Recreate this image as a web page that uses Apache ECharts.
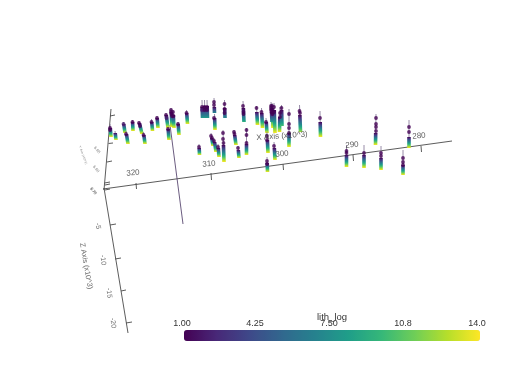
<!DOCTYPE html>
<html>
<head>
<meta charset="utf-8">
<style>html,body{margin:0;padding:0;background:#fff}#c{width:515px;height:368px}#c canvas{filter:blur(0.4px)}</style>
<script src="https://cdn.jsdelivr.net/npm/echarts@6/dist/echarts.min.js"></script>
</head>
<body>
<div id="c"></div>
<script>
// Projected position of each well in the 3D view.
// [xTop, yTop, yGradientStart, yBottom, xBottom, lithAtBottom]
const wells = [
  [110,124,128,137,111,14],[115,131,133,140,116,14],[123.5,122,124,133,125,14],[126,131,134,144,128,14],
  [132.5,120,122,131,133,14],[139,121,123,134,142,14],[143.5,132,135,144,145,14],[151.5,119,122,131,152.5,14],
  [157,116,118,128,158,14],[166,113,115,128,168,14],[171,108,112,127,172,14],[173,110,115,128,174,14],
  [168,127,129,140,169,14],[178,122,124,135,179,14],[186.5,110,113,124,187.5,14],
  [202,100,107,118,202.5,8],[204.5,100,106,118,205,8],[207,100,106,118,207.5,8],
  [214,98,107,113,214.5,7],[214.5,114,118,130,215,14],[224.5,100,108,118,225,7],[243,101,108,122,244,9],
  [256.5,106,112,125,257.5,14],[261.5,108,113,128,262.5,14],[266,118,122,133,267,14],
  [272,103,108,128,273,14],[274,103,110,133,275,14],[271,102,112,122,272,8],
  [280,107,117,132,279.5,14],[281.5,105,110,126,282,10],[289,109,133,147,289,14],[299.5,105,115,132,300.5,12],
  [320,111,122,137,320.5,14],[376,114,133,145,375.5,14],[409,120,137,148,409,14],
  [346.5,145,155,167,346.5,14],[364,145,155,168,364,14],[381,146,158,170,381,14],[403,150,165,175,403,14],
  [199,144,148,155,199.5,14],[211,133,138,146,213,14],[214,138,142,152,216,14],[218,144,148,157,219,14],
  [223,130,145,162,224,14],[234,130,135,145,236,14],[238,146,150,158,239,14],[246.5,128,144,155,246.5,14],
  [267,132,140,153,268,14],[274,142,148,160,275,14],[267,157,163,172,267.5,14]
];
// Dark marker points along the wells: [x, y, lith]
const wellDots = [
  [110,128,1],[110,130,1],[123.5,124,2],[126,134,1],[132.5,122,1],[139,123,1],[140,126,1],[143.5,135,1],
  [151.5,122,1],[157,118,1],[166,115,1],[166.5,118,2],[171,110,1],[171,112,1],[171.5,114,1],[172,116,1],
  [173,112,1],[173.5,116,1],[168,129,1],[178,124,1],[186.5,113,1],
  [202,107,1],[202,110,2],[204.5,107,1],[204.5,110,1],[207,107,1],[207,110,1],
  [214,102,1],[214,105,1],[214,118,1],[224.5,104,1],[224.5,109,1],[224.5,113,1],
  [243,106,1],[243.5,112,1],[243.5,114,1],[256.5,108,1],[261.5,112,1],[266,122,1],
  [272,106,1],[272,110,1],[272.5,114,1],[274,107,1],[274,112,1],[271,106,1],[271,108,1],[271,110,1],[271.5,112,1],
  [280,113,1],[280,117,1],[281.5,108,1],[289,114,1],[289,124,1],[289,128,1],[289,133,1],
  [299.5,111,1],[300,113,1],[320,118,1],[376,118,1],[376,124,1],[376,127,1],[376,131,1],
  [409,127,1],[409,132,1],[346.5,151,1],[346.5,153,1],[364,153,1],[381,153,1],[381,156,1],
  [403,158,1],[403,162,1],[403,165,1],
  [199,147,1],[211,136,1],[212,138,1],[214,141,1],[218,147,1],[223,133,1],[223,139,1],[223.5,143,1],
  [234,132,1],[234.5,134,1],[238,148,1],[246.5,130,1],[246.5,135,1],[246.5,143,1],
  [267,136,1],[267,140,1],[274,146,1],[267,161,1],[267,164,1]
];
// The long slanted well trace
const longTrace = [[170,125,183,224]];
// Axis lines and tick marks: [x1,y1,x2,y2]
const axisLines = [
  [103,189,452,141],[111,109,104,190],[104,188,128,333]
];
const axisTicks = [
  [136,183,136.5,189],[211,173,211.5,180],[283,164,283.5,170],[353,155,353.5,161],[421,146,421.5,152],
  [110,116,115,115],[108.5,143.5,113,143],[107,162,112,161],[104.5,183,110,182],[105,190,110,189],
  [105,185,110,184],[110,225,116,224],[115,259,121,258],[121,291,126,290],[126,323,132,322]
];
// Axis text: [x, y, text]
const xTickLabels = [[133,173,'320'],[209,164,'310'],[282,154,'300'],[352,145,'290'],[419,136,'280']];
const zTickLabels = [[98,226,'-5'],[103,260,'-10'],[109,293,'-15'],[113,323,'-20']];
const yTickLabels = [[97,150,'6.85'],[96,169,'6.80'],[93,191,'6.75'],[93.5,191,'6.70']];
const xTitle = [[282,136,'X Axis (x10^3)']];
const zTitle = [[86,266,'Z Axis (x10^3)']];
const yTitle = [[83,155,'Y Axis (x10^3)']];
// Color bar
const lithTicks = ['1.00','4.25','7.50','10.8','14.0'];
const lithTickX = [182,255,329,403,477];
const lithMin = 1, lithMax = 14;
const viridis = ['#440154','#482878','#3e4989','#31688e','#26828e','#1f9e89','#35b779','#6ece58','#b5de2b','#fde725'];

const FONT = '"Liberation Sans", Arial, sans-serif';

function gradientStops(lithEnd) {
  const frac = (lithEnd - lithMin) / (lithMax - lithMin);
  const last = frac * (viridis.length - 1);
  const stops = [];
  for (let i = 0; i < viridis.length && i <= Math.ceil(last); i++) {
    stops.push({offset: Math.min(1, i / last), color: viridis[i]});
  }
  return stops;
}

function segmentSeries(data, color, width, z) {
  return {
    type: 'custom', coordinateSystem: 'cartesian2d', silent: true, z: z, clip: false,
    encode: {x: [0, 2], y: [1, 3]}, data: data,
    renderItem: (p, api) => {
      const a = api.coord([api.value(0), api.value(1)]);
      const b = api.coord([api.value(2), api.value(3)]);
      return {type: 'line', shape: {x1: a[0], y1: a[1], x2: b[0], y2: b[1]},
        style: {stroke: color, lineWidth: width, fill: null}};
    }
  };
}

function labelSeries(data, size, rotate, color, z) {
  return {
    type: 'scatter', symbolSize: 0, silent: true, z: z || 8, data: data,
    encode: {x: 0, y: 1},
    label: {show: true, position: 'inside', rotate: rotate, fontSize: size, color: color,
      fontFamily: FONT, formatter: p => p.value[2]},
    labelLayout: {hideOverlap: false}
  };
}

const chart = echarts.init(document.getElementById('c'), null, {width: 515, height: 368, renderer: 'canvas'});
chart.setOption({
  animation: false,
  backgroundColor: '#fff',
  grid: {left: 0, right: 0, top: 0, bottom: 0},
  xAxis: {type: 'value', min: 0, max: 515, show: false},
  yAxis: {type: 'value', min: 0, max: 368, inverse: true, show: false},
  visualMap: {
    type: 'continuous', seriesIndex: 3, dimension: 2, min: lithMin, max: lithMax,
    orient: 'horizontal', left: 169, top: 315, itemWidth: 11, itemHeight: 296,
    text: null, showLabel: false, calculable: false, realtime: false, silent: true,
    handleStyle: {opacity: 0}, indicatorStyle: {opacity: 0}, borderWidth: 0, borderRadius: 0,
    inRange: {color: viridis},
    textStyle: {color: 'rgba(0,0,0,0)', fontSize: 1}
  },
  series: [
    segmentSeries(axisLines.concat(axisTicks), '#4a4a4a', 0.9, 2),
    segmentSeries(longTrace, '#5a4a72', 0.9, 2),
    {
      type: 'custom', coordinateSystem: 'cartesian2d', silent: true, z: 3, clip: false,
      encode: {x: [0, 4], y: [1, 2, 3]}, data: wells,
      renderItem: (p, api) => {
        const top = api.coord([api.value(0), api.value(1)]);
        const bot = api.coord([api.value(4), api.value(3)]);
        const gy = api.coord([0, api.value(2)])[1];
        const gx = top[0] + (bot[0] - top[0]) * (gy - top[1]) / ((bot[1] - top[1]) || 1);
        const hw = 1.8;
        return {type: 'group', children: [
          {type: 'line', shape: {x1: top[0], y1: top[1], x2: gx, y2: gy},
            style: {stroke: '#7d7092', lineWidth: 0.8}},
          {type: 'polygon', shape: {points: [[gx - hw, gy], [gx + hw, gy], [bot[0] + hw, bot[1]], [bot[0] - hw, bot[1]]]},
            style: {fill: new echarts.graphic.LinearGradient(0, 0, 0, 1, gradientStops(api.value(5)))}}
        ]};
      }
    },
    {
      type: 'scatter', silent: true, z: 4, symbol: 'circle', symbolSize: 3.8,
      clip: false, data: wellDots, encode: {x: 0, y: 1}
    },
    labelSeries(xTickLabels, 8, 4, '#333'),
    labelSeries(xTitle, 8, 4, '#333', 9),
    labelSeries(zTickLabels, 7, -83, '#444'),
    labelSeries(zTitle, 7.4, -80, '#444'),
    labelSeries(yTickLabels, 4, -50, '#555'),
    labelSeries(yTitle, 3, -70, '#666')
  ],
  graphic: lithTicks.map((t, i) => ({
    type: 'text', silent: true, x: lithTickX[i], y: 324, z: 20,
    style: {text: t, fontSize: 9, fontFamily: FONT, fill: '#333', align: 'center', verticalAlign: 'middle'}
  })).concat([{
    type: 'text', silent: true, x: 332, y: 317, z: 21,
    style: {text: 'lith_log', fontSize: 9.5, fontFamily: FONT, fill: '#333', align: 'center', verticalAlign: 'middle'}
  }])
});
</script>
</body>
</html>
